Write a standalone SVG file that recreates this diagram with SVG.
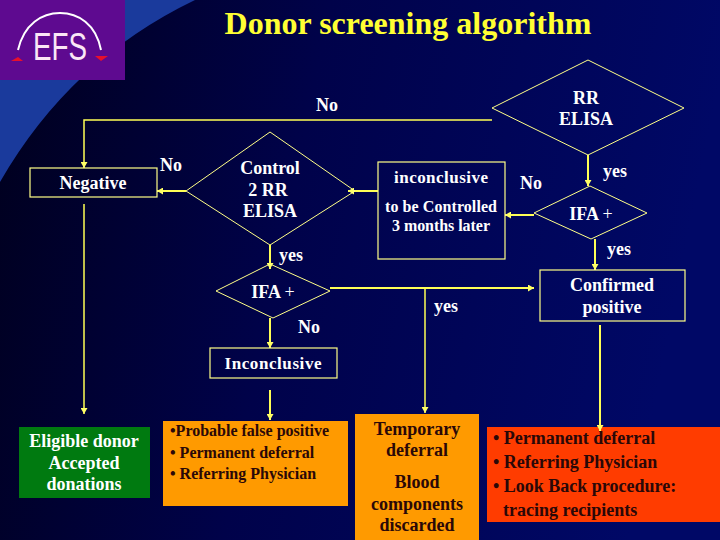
<svg xmlns="http://www.w3.org/2000/svg" width="720" height="540" viewBox="0 0 720 540">
<defs>
<linearGradient id="bg" x1="0" y1="0" x2="1" y2="0.15"><stop offset="0" stop-color="#00001c"/><stop offset="0.45" stop-color="#00024a"/><stop offset="1" stop-color="#000866"/></linearGradient>
<marker id="ah" markerUnits="userSpaceOnUse" markerWidth="7" markerHeight="7" refX="6" refY="3.5" orient="auto"><path d="M0 0L6 3.5L0 7z" fill="#ffff66"/></marker>
</defs>
<style>
text{font-family:"Liberation Serif","Times New Roman",serif;font-weight:bold;font-size:18px;text-anchor:middle;fill:#fff}
.box{fill:none;stroke:#ffff88;stroke-width:1.2}
.dia{fill:none;stroke:#ffff88;stroke-width:1}
.ln{fill:none;stroke:#ffff55;stroke-width:1.5}
.th{fill:none;stroke:#ffff55;stroke-width:2}
.arr{marker-end:url(#ah)}
.dk{fill:#2a0808}
.lf{text-anchor:start}
.n{font-weight:normal}
</style>
<rect width="720" height="540" fill="url(#bg)"/>
<path d="M0 0H195Q70 60 0 182Z" fill="#1a3a9c"/>
<g id="logo">
<rect width="125" height="80" fill="#5e0a90"/>
<path d="M18 50C24 24 42 13 60 13S96 24 101 50" fill="none" stroke="#fff" stroke-width="2"/>
<path d="M11 61L18 57L23 61z" fill="#e8102c"/><path d="M95 56L108 56L101 61z" fill="#e8102c"/>
<text x="60" y="60" textLength="54" lengthAdjust="spacingAndGlyphs" style="font-family:'Liberation Sans',sans-serif;font-weight:normal;font-size:38px;fill:#fbe6f6">EFS</text>
</g>
<text x="408" y="34" style="font-size:32px;fill:#ffff33">Donor screening algorithm</text>
<g id="connectors">
<path class="ln arr" d="M492 120H84V168"/>
<path class="ln arr" d="M84 204V414"/>
<path class="th arr" d="M186 191H157"/>
<path class="th arr" d="M378 191H348"/>
<path class="th arr" d="M270 245V269"/>
<path class="th arr" d="M588 155V186"/>
<path class="th arr" d="M595 239V270"/>
<path class="th arr" d="M534 215H505"/>
<path class="th arr" d="M330 288H534"/>
<path class="ln arr" d="M425 288V413"/>
<path class="th arr" d="M270 318V348"/>
<path class="th arr" d="M270 390V420"/>
<path class="th" d="M600 325V424"/>
</g>
<g id="rr-elisa"><path class="dia" d="M492 108L588 60L684 108L588 155Z"/><text x="586" y="104">RR</text><text x="586" y="125">ELISA</text></g>
<g id="negative"><rect class="box" x="30" y="168" width="127" height="29"/><text x="93" y="189">Negative</text></g>
<g id="control"><path class="dia" d="M186 191L270 132L355 191L270 245Z"/><text x="270" y="174">Control</text><text x="268" y="196">2 RR</text><text x="270" y="217">ELISA</text></g>
<g id="inconclusive-box"><rect class="box" x="378" y="162" width="127" height="97"/><text x="441" y="183" textLength="94" style="font-size:17px">inconclusive</text><text x="441" y="212" style="font-size:16px" textLength="112">to be Controlled</text><text x="441" y="231" style="font-size:16px" textLength="98">3 months later</text></g>
<g id="ifa-top"><path class="dia" d="M534 213L590 186L647 213L591 239Z"/><text x="591" y="220">IFA <tspan class="n">+</tspan></text></g>
<g id="confirmed"><rect class="box" x="540" y="270" width="145" height="51"/><text x="612" y="291">Confirmed</text><text x="612" y="313">positive</text></g>
<g id="ifa-low"><path class="dia" d="M216 291L270 264L330 291L273 318Z"/><text x="273" y="298">IFA <tspan class="n">+</tspan></text></g>
<g id="inconclusive-low"><rect class="box" x="210" y="348" width="127" height="30"/><text x="273" y="369" textLength="97" style="font-size:17px">Inconclusive</text></g>
<g id="eligible"><rect x="19" y="427" width="131" height="71" fill="#007a10"/><text x="84" y="447">Eligible donor</text><text x="84" y="469">Accepted</text><text x="84" y="490">donations</text></g>
<g id="false-positive"><rect x="163" y="421" width="185" height="85" fill="#ff9a00"/><text class="dk lf" x="170" y="436" style="font-size:16px">•Probable false positive</text><text class="dk lf" x="170" y="458" style="font-size:16px">• Permanent deferral</text><text class="dk lf" x="170" y="479" style="font-size:16px">• Referring Physician</text></g>
<g id="temporary"><rect x="355" y="414" width="124" height="126" fill="#ff9a00"/><text class="dk" x="417" y="435">Temporary</text><text class="dk" x="417" y="456">deferral</text><text class="dk" x="417" y="488">Blood</text><text class="dk" x="417" y="510">components</text><text class="dk" x="417" y="531">discarded</text></g>
<g id="permanent"><rect x="487" y="427" width="233" height="95" fill="#ff3c00"/><path class="th arr" d="M600 424V431"/><text class="dk lf" x="493" y="444">• Permanent deferral</text><text class="dk lf" x="493" y="468">• Referring Physician</text><text class="dk lf" x="493" y="492">• Look Back procedure:</text><text class="dk lf" x="503" y="516">tracing recipients</text></g>
<g id="labels">
<text x="327" y="111">No</text><text x="171" y="171">No</text><text x="531" y="189">No</text><text x="309" y="333">No</text>
<text x="291" y="261">yes</text><text x="615" y="177">yes</text><text x="619" y="255">yes</text><text x="446" y="312">yes</text>
</g>
</svg>
